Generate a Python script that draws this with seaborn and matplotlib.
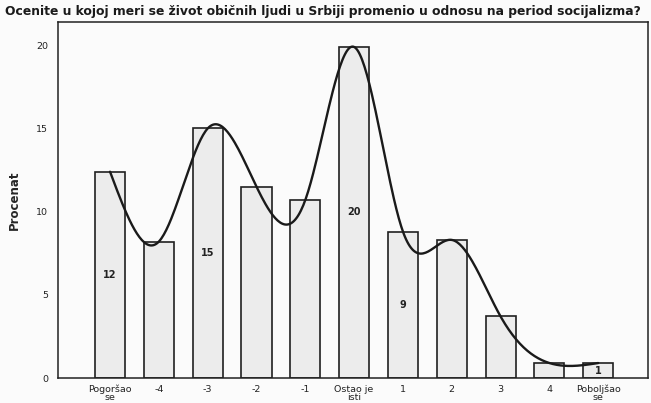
import numpy as np
import pandas as pd
import matplotlib
matplotlib.use("Agg")
import matplotlib.pyplot as plt
import seaborn as sns

# data
categories = ["Pogoršao\nse", "-4", "-3", "-2", "-1", "Ostao je\nisti",
              "1", "2", "3", "4", "Poboljšao\nse"]
percent = [12.4, 8.2, 15.0, 11.5, 10.7, 19.9, 8.8, 8.3, 3.7, 0.9, 0.9]
bar_labels = ["12", "", "15", "", "", "20", "9", "", "", "", "1"]
title = "Ocenite u kojoj meri se život običnih ljudi u Srbiji promenio u odnosu na period socijalizma?"

df = pd.DataFrame({"kat": categories, "procenat": percent})


def natural_spline(x, y, xs):
    # natural cubic spline through the bar tops
    x = np.asarray(x, float)
    y = np.asarray(y, float)
    n = len(x)
    h = np.diff(x)
    A = np.zeros((n, n))
    b = np.zeros(n)
    A[0, 0] = 1
    A[-1, -1] = 1
    for i in range(1, n - 1):
        A[i, i - 1] = h[i - 1]
        A[i, i] = 2 * (h[i - 1] + h[i])
        A[i, i + 1] = h[i]
        b[i] = 6 * ((y[i + 1] - y[i]) / h[i] - (y[i] - y[i - 1]) / h[i - 1])
    M = np.linalg.solve(A, b)
    out = np.empty_like(xs)
    for k, t in enumerate(xs):
        i = min(max(np.searchsorted(x, t) - 1, 0), n - 2)
        dx1 = x[i + 1] - t
        dx0 = t - x[i]
        out[k] = (M[i] * dx1 ** 3 / (6 * h[i]) + M[i + 1] * dx0 ** 3 / (6 * h[i])
                  + (y[i] / h[i] - M[i] * h[i] / 6) * dx1
                  + (y[i + 1] / h[i] - M[i + 1] * h[i] / 6) * dx0)
    return out


sns.set_style("white")
plt.rcParams["font.family"] = ["DejaVu Sans"]

fig = plt.figure(figsize=(6.51, 4.03), dpi=100, facecolor="#fbfbfb")
ax = fig.add_axes([58 / 651, 1 - 378 / 403, 590 / 651, 356 / 403])
ax.set_facecolor("#fbfbfb")

sns.barplot(data=df, x="kat", y="procenat", order=categories, width=0.615,
            color="#ececec", edgecolor="#202020", linewidth=1.2,
            saturation=1, ax=ax)

# smooth curve through the bar tops
pos = np.arange(len(percent))
xs = np.linspace(0, len(percent) - 1, 400)
ys = natural_spline(pos, percent, xs)
sns.lineplot(x=xs, y=ys, color="#1a1a1a", linewidth=1.7, ax=ax)

for i, lab in enumerate(bar_labels):
    if lab:
        ax.text(i, percent[i] / 2, lab, ha="center", va="center",
                fontsize=7, fontweight="bold", color="#222222")

ax.set_xlim(-1.066, 11.02)
ax.set_ylim(0, 21.4)
ax.set_yticks([0, 5, 10, 15, 20])
ax.set_xlabel("")
ax.set_ylabel("Procenat", fontsize=8.5, fontweight="bold", labelpad=11)
ax.tick_params(axis="both", direction="out", length=5, width=1,
               labelsize=6.8, color="#222222", labelcolor="#222222", pad=2)
ax.tick_params(axis="x", length=3)
for lbl in ax.get_xticklabels():
    lbl.set_linespacing(0.8)
for s in ax.spines.values():
    s.set_color("#222222")
    s.set_linewidth(1.1)

fig.text(5 / 651, 1 - 12 / 403, title, fontsize=8.9, fontweight="bold",
         va="center", ha="left", color="#1a1a1a")

fig.savefig("out.png", dpi=100, facecolor=fig.get_facecolor())
